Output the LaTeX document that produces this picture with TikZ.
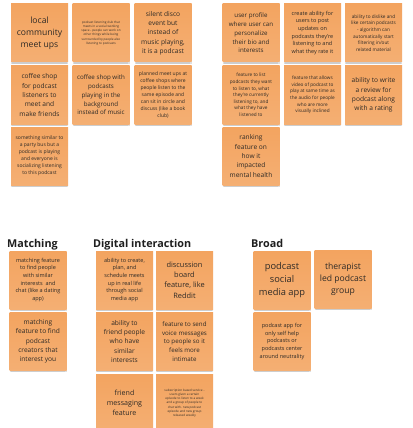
\documentclass[tikz,border=0pt]{standalone}
\usepackage{fontspec}
\setmainfont{Open Sans}
\usetikzlibrary{shadows}
\definecolor{NoteOrange}{HTML}{F3A460}
\definecolor{NoteText}{HTML}{2E2A26}
\definecolor{NoteHead}{HTML}{1F1F1F}

\begin{document}
\begin{tikzpicture}[x=1pt, y=-1pt,
  note/.style={rectangle, top color=NoteOrange, bottom color=NoteOrange!88!white,
               minimum width=57, minimum height=58,
               inner sep=1pt, align=center, text=NoteText,
               drop shadow={shadow xshift=0pt, shadow yshift=-3.2pt, shadow scale=0.96, opacity=0.18},
               drop shadow={shadow xshift=0pt, shadow yshift=-1.6pt, opacity=0.25}},
  head/.style={anchor=base west, inner sep=0pt, text=NoteHead,
               font=\fontsize{10.8}{13}\selectfont\bfseries},
  fXL/.style={font=\fontsize{9.3}{13}\selectfont},
  fL/.style={font=\fontsize{8.6}{12}\selectfont},
  fLm/.style={font=\fontsize{7.4}{10.3}\selectfont},
  fLs/.style={font=\fontsize{7.1}{10}\selectfont},
  fM/.style={font=\fontsize{6.6}{9.3}\selectfont},
  fMs/.style={font=\fontsize{6.2}{8.7}\selectfont},
  fS/.style={font=\fontsize{5.5}{7.7}\selectfont},
  fSs/.style={font=\fontsize{5}{7}\selectfont},
  fXS/.style={font=\fontsize{4.7}{6.6}\selectfont},
  fXXS/.style={font=\fontsize{3.1}{4.2}\selectfont}
]
  \useasboundingbox (0,0) rectangle (412,428);
  \clip (0,0) rectangle (412,428);
  \fill[white] (0,0) rectangle (412,428);

  \node[note, fL]   (lcm) at (39.5, 33) {local\\community\\meet ups};
  \node[note, fXXS] (plc) at (101,  33) {podcast listening club that\\meets in a social working\\space - people can work on\\other things while being\\surrounded by people also\\listening to podcasts};
  \node[note, fM]   (sde) at (163,  33) {silent disco\\event but\\instead of\\music playing,\\it is a podcast};
  \node[note, fM]   (csl) at (39.5, 95) {coffee shop\\for podcast\\listeners to\\meet and\\make friends};
  \node[note, fMs]  (csp) at (101,  95) {coffee shop with\\podcasts\\playing in the\\background\\instead of music};
  \node[note, fSs]  (pmu) at (163,  95) {planned meet ups at\\coffee shops where\\people listen to the\\same episode and\\can sit in circle and\\discuss (like a book\\club)};
  \node[note, fSs]  (pbs) at (39.5,156) {something similar to\\a party bus but a\\podcast is playing\\and everyone is\\socializing listening\\to this podcast};

  \node[note, fMs]  (upr) at (251,  33) {user profile\\where user can\\personalize\\their bio and\\interests};
  \node[note, fS]   (cau) at (312.5,33) {create ability for\\users to post\\updates on\\podcasts they're\\listening to and\\what they rate it};
  \node[note, fXS]  (dsl) at (373.5,33) {ability to dislike and\\like certain podcasts\\- algorithm can\\automatically start\\filtering in/out\\related material};
  \node[note, fXS]  (lst) at (251,  95) {feature to list\\podcasts they want\\to listen to, what\\they're currently\\listening to, and\\what they have\\listened to};
  \node[note, fXS]  (vid) at (312.5,95) {feature that allows\\video of podcast to\\play at same time as\\the audio for people\\who are more\\visually inclined};
  \node[note, fM]   (rev) at (373.5,95) {ability to write\\a review for\\podcast along\\with a rating};
  \node[note, fM]   (rnk) at (251, 156) {ranking\\feature on\\how it\\impacted\\mental health};

  \node[head] (hmt) at (7,   247) {Matching};
  \node[head] (hdi) at (93,  247) {Digital interaction};
  \node[head] (hbr) at (251, 247) {Broad};

  \node[note, fS]   (mpp) at (38,   280) {matching feature\\to find people\\with similar\\interests\ \ and\\chat (like a dating\\app)};
  \node[note, fM]   (mpc) at (38, 341.5) {matching\\feature to find\\podcast\\creators that\\interest you};

  \node[note, fS]   (csm) at (124.5, 280) {ability to create,\\plan, and\\schedule meets\\up in real life\\through social\\media app};
  \node[note, fLm]  (dbf) at (184.5, 280) {discussion\\board\\feature, like\\Reddit};
  \node[note, fM]   (frp) at (124.5,341.5) {ability to\\friend people\\who have\\similar\\interests};
  \node[note, fMs]  (vmg) at (184.5,341.5) {feature to send\\voice messages\\to people so it\\feels more\\intimate};
  \node[note, fLs]  (fmf) at (124.5, 403) {friend\\messaging\\feature};
  \node[note, fXXS] (sbs) at (184.5, 403) {subscription based service -\\users given a certain\\episode to listen to a week\\and a group of people to\\chat with. new podcast\\episode and new group\\released weekly};

  \node[note, fXL]  (psm) at (282,   280) {podcast\\social\\media app};
  \node[note, fL]   (tpg) at (343, 279.5) {therapist\\led podcast\\group};
  \node[note, fS]   (sha) at (282, 341.5) {podcast app for\\only self help\\podcasts or\\podcasts center\\around neutrality};
\end{tikzpicture}
\end{document}
